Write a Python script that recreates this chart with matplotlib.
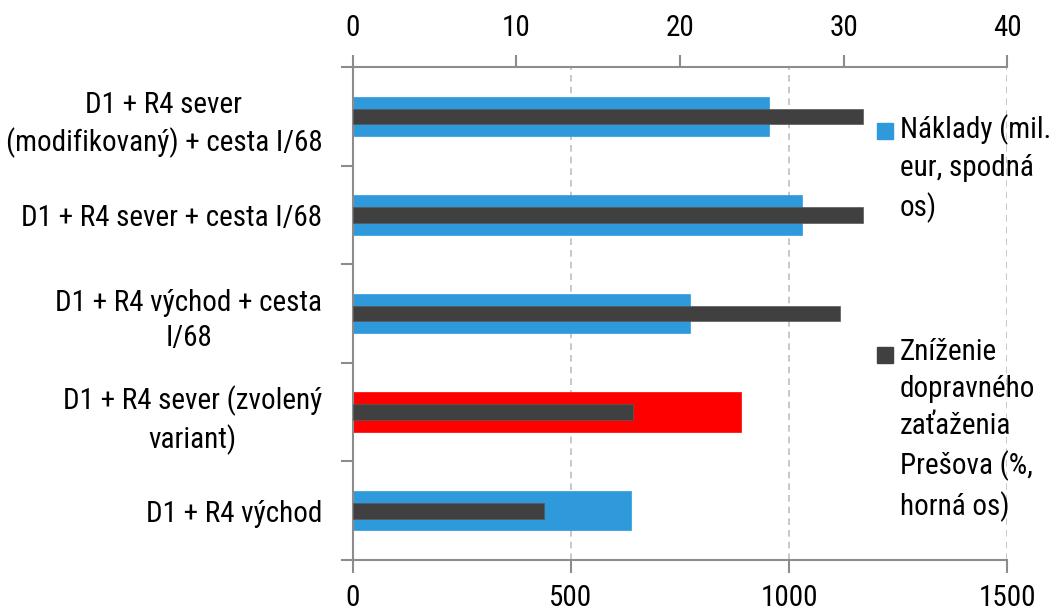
import matplotlib.pyplot as plt
from matplotlib.patches import Rectangle
from matplotlib import font_manager
import numpy as np

# data
categories = [
    'D1 + R4 sever\n(modifikovaný) + cesta I/68',
    'D1 + R4 sever + cesta I/68',
    'D1 + R4 východ + cesta\nI/68',
    'D1 + R4 sever (zvolený\nvariant)',
    'D1 + R4 východ',
]
naklady = [955, 1030, 773, 890, 637]          # mil. eur, bottom axis
znizenie = [31.2, 31.2, 29.8, 17.1, 11.7]     # %, top axis
chosen = 3                                    # highlighted variant

label_naklady = 'Náklady (mil.\neur, spodná\nos)'
label_znizenie = 'Zníženie\ndopravného\nzaťaženia\nPrešova (%,\nhorná os)'

# font: a narrow face if there is one, else plain Liberation Sans a bit smaller
names = {f.name for f in font_manager.fontManager.ttflist}
narrow = [n for n in ['Liberation Sans Narrow', 'Roboto Condensed', 'Open Sans Condensed'] if n in names]
if narrow:
    plt.rcParams['font.family'] = [narrow[0], 'DejaVu Sans']
    fs = 21
else:
    plt.rcParams['font.family'] = ['Liberation Sans', 'DejaVu Sans']
    fs = 19

blue = '#2E9ADC'
dark = '#404040'
red = '#FF0000'
spine_col = '#8C8C8C'

fig = plt.figure(figsize=(10.53, 6.11), dpi=100)
ax = fig.add_axes([0.335, 0.0835, 0.6215, 0.8065])

y = np.arange(len(categories))
colors = [red if i == chosen else blue for i in y]
ax.barh(y, naklady, height=0.4, color=colors, edgecolor=colors, linewidth=0.5, zorder=2)
ax.set_xlim(0, 1500)
ax.set_ylim(len(categories) - 0.5, -0.5)
ax.set_xticks([0, 500, 1000, 1500])
ax.xaxis.grid(True, linestyle=(0, (4, 3)), color='#BFBFBF', linewidth=1.2, zorder=0)
ax.set_axisbelow(True)

# category labels in the middle, tick marks on the boundaries
ax.set_yticks(y)
ax.set_yticklabels(categories, fontsize=fs, multialignment='center', linespacing=1.35)
ax.tick_params(axis='y', length=0, pad=22)
ax.set_yticks(np.arange(-0.5, len(categories), 1), minor=True)
ax.tick_params(axis='y', which='minor', length=9, color=spine_col, width=1.5)
ax.tick_params(axis='x', labelsize=fs, length=9, color=spine_col, width=1.5, pad=8)

for s in ['top', 'right']:
    ax.spines[s].set_visible(False)
for s in ['left', 'bottom']:
    ax.spines[s].set_color(spine_col)
    ax.spines[s].set_linewidth(1.5)

# top axis for the percentage reduction
ax2 = ax.twiny()
ax2.barh(y, znizenie, height=0.16, color=dark, edgecolor='#5A5A5A', linewidth=0.5, zorder=3)
ax2.set_xlim(0, 40)
ax2.set_xticks([0, 10, 20, 30, 40])
ax2.tick_params(axis='x', labelsize=fs, length=9, color=spine_col, width=1.5, pad=9)
for s in ['bottom', 'right', 'left']:
    ax2.spines[s].set_visible(False)
ax2.spines['top'].set_color(spine_col)
ax2.spines['top'].set_linewidth(1.5)

# legend, drawn by hand like the spreadsheet original
W, H = 1053, 611
for (ytop, col, txt) in [(123, blue, label_naklady), (347, dark, label_znizenie)]:
    fig.patches.append(Rectangle((877 / W, 1 - (ytop + 16) / H), 16 / W, 16 / H,
                                 transform=fig.transFigure, color=col, zorder=5))
    fig.text(900 / W, 1 - (ytop - 9) / H, txt, fontsize=fs, va='top', ha='left',
             linespacing=1.42, zorder=5)

fig.savefig('out.png', dpi=100)
